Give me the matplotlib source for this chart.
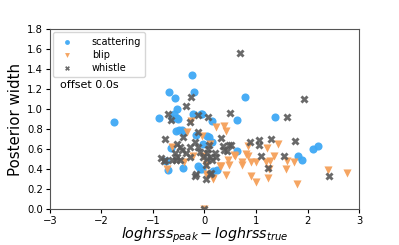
import matplotlib
matplotlib.use('Agg')
import matplotlib.pyplot as plt

# scattering glitches
scat_x = [-1.75, -0.24, -0.68, -0.20, -0.58, -0.53, -0.88, -0.64, -0.54, -0.60, -0.52,
          -0.22, -0.07, 0.15, 0.64, 0.79, -0.55, -0.50, -0.39, -0.44, -0.70, -0.42,
          -0.75, -0.13, -0.09, 0.24, -0.02, -0.17, 1.37, 0.05, 0.14, 0.63, 2.10, 2.21,
          1.81, 1.89, -0.05, -0.65, 0.17, -0.05, 0.08]
scat_y = [0.875, 1.34, 1.17, 1.17, 1.11, 1.00, 0.915, 0.91, 0.91, 0.956, 0.905,
          0.95, 0.956, 0.88, 0.89, 1.125, 0.78, 0.79, 0.77, 0.79, 0.39, 0.41,
          0.48, 0.43, 0.40, 0.39, 0.65, 0.74, 0.925, 0.73, 0.67, 0.58, 0.60, 0.63,
          0.53, 0.49, 0.95, 0.615, 0.38, 0.40, 0.72]

# blip glitches
blip_x = [0.22, 0.37, 0.42, 1.42, 0.84, 1.21, 0.81, 0.85, 0.58, 1.35, 0.46, 0.73,
          0.72, 0.90, 1.00, 1.19, 1.28, 1.26, 1.60, 1.74, 1.58, 0.90, 1.24, 1.00,
          1.80, 2.39, 2.76, 0.48, 0.33, 0.41, 0.16, -0.02, 0.11, 0.04, -0.73, -0.64,
          -0.27, -0.33, -0.05, -0.40, -0.23, 0.03, 0.05, 0.17, 0.31, 0.59, 0.00]
blip_y = [0.82, 0.83, 0.78, 0.655, 0.63, 0.615, 0.555, 0.53, 0.54, 0.53, 0.49, 0.47,
          0.44, 0.47, 0.47, 0.47, 0.48, 0.40, 0.48, 0.47, 0.40, 0.33, 0.31, 0.27,
          0.25, 0.39, 0.36, 0.44, 0.43, 0.34, 0.31, 0.53, 0.655, 0.33, 0.40, 0.62,
          0.88, 0.77, 0.73, 0.47, 0.535, 0.44, 0.35, 0.30, 0.43, 0.535, 0.0]

# whistle glitches
whis_x = [0.68, 1.93, 1.60, 0.50, 0.07, 0.33, 0.88, 1.06, 1.05, 1.29, 1.76, 1.10,
          1.55, 1.23, 2.42, 0.51, 0.35, 0.43, 0.22, 0.14, 0.03, 0.12, 0.03, 0.00,
          -0.27, -0.35, -0.71, -0.65, -0.29, -0.77, -0.85, -0.77, -0.55, -0.18,
          -0.13, -0.13, -0.42, -0.54, -0.48, -0.44, -0.57, -0.53, -0.64, -0.48,
          -0.35, -0.28, -0.18, -0.12, -0.09, 0.04, 0.11, 0.20, 0.37, 0.48, -0.79,
          -0.17, 0.11, -0.28, -0.02, 0.06, 0.08, 0.05]
whis_y = [1.56, 1.10, 0.925, 0.96, 0.925, 0.71, 0.67, 0.69, 0.64, 0.70, 0.68, 0.53,
          0.535, 0.41, 0.33, 0.645, 0.63, 0.58, 0.525, 0.49, 0.44, 0.36, 0.30, 0.0,
          1.12, 1.03, 0.95, 0.895, 0.875, 0.70, 0.515, 0.49, 0.49, 0.33,
          0.94, 0.77, 0.72, 0.655, 0.62, 0.59, 0.56, 0.525, 0.49, 0.49,
          0.56, 0.62, 0.67, 0.62, 0.575, 0.56, 0.525, 0.56, 0.59, 0.64, 0.48,
          0.35, 0.35, 0.525, 0.52, 0.60, 0.64, 0.50]

fig, ax = plt.subplots(figsize=(3.99, 2.45), dpi=100)
fig.subplots_adjust(left=0.125, right=0.9, bottom=0.145, top=0.882)

ax.scatter(scat_x, scat_y, s=34, marker='o', color='#3fa9f5', alpha=0.95, label='scattering', linewidths=0)
ax.scatter(blip_x, blip_y, s=34, marker='v', color='#f5a05a', alpha=0.95, label='blip', linewidths=0)
ax.scatter(whis_x, whis_y, s=34, marker='X', color='#5a5a5a', alpha=0.9, label='whistle', linewidths=0)

ax.set_xlim(-3, 3)
ax.set_ylim(0, 1.8)
ax.set_yticks([0.0, 0.2, 0.4, 0.6, 0.8, 1.0, 1.2, 1.4, 1.6, 1.8])
ax.tick_params(labelsize=7.2, length=3, pad=2)
for sp in ax.spines.values():
    sp.set_color('#555555')

ax.set_xlabel('$loghrss_{peak} - loghrss_{true}$', fontsize=10.3, labelpad=-0.5)
ax.set_ylabel('Posterior width', fontsize=10.8, labelpad=3)
ax.text(0.033, 0.675, 'offset 0.0s', transform=ax.transAxes, fontsize=8)
ax.legend(loc='upper left', fontsize=7, borderpad=0.45, handletextpad=1.5,
          labelspacing=0.3, borderaxespad=0.35, markerscale=0.6)

plt.savefig('out.png', dpi=100)
